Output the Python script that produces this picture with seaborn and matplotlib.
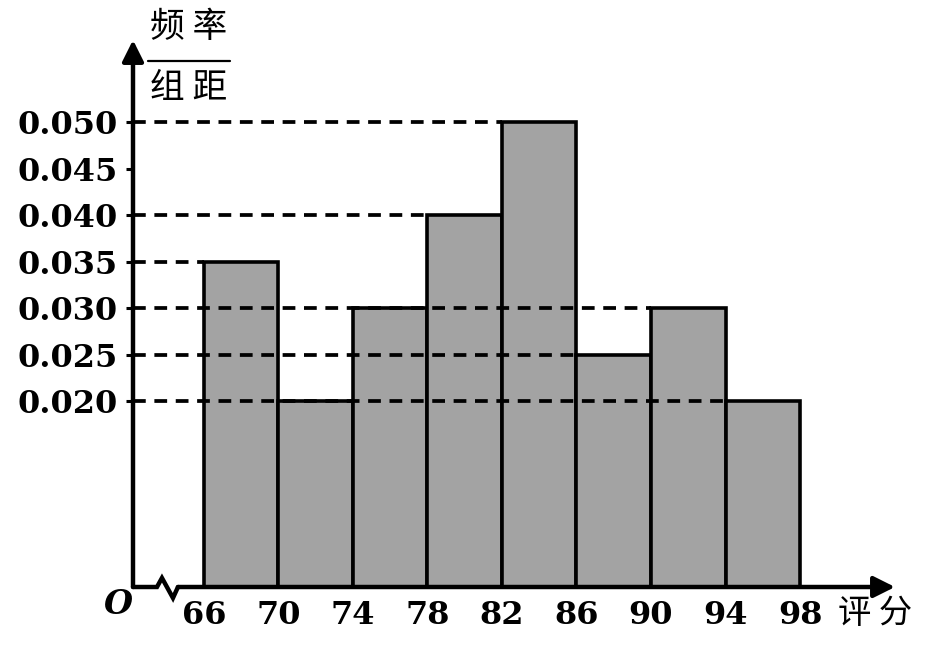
import numpy as np
import pandas as pd
import matplotlib
matplotlib.use("Agg")
import matplotlib.pyplot as plt
import seaborn as sns

# histogram data: bin edges and frequency/width
edges = [66, 70, 74, 78, 82, 86, 90, 94, 98]
heights = [0.035, 0.020, 0.030, 0.040, 0.050, 0.025, 0.030, 0.020]
tick_vals = [0.020, 0.025, 0.030, 0.035, 0.040, 0.045, 0.050]
tick_labels = ["0.020", "0.025", "0.030", "0.035", "0.040", "0.045", "0.050"]
# dashed guide lines: level -> x where the dashes stop
guide_levels = [0.050, 0.040, 0.035, 0.030, 0.025, 0.020]
guide_ends = [82, 78, 66, 90, 86, 94]

sns.set_theme(style="white")
plt.rcParams["font.family"] = ["DejaVu Serif"]
plt.rcParams["text.color"] = "black"
plt.rcParams["xtick.color"] = "black"
plt.rcParams["ytick.color"] = "black"

fig = plt.figure(figsize=(9.29, 6.45), dpi=100)
ax = fig.add_axes([133 / 929, 58 / 645, (895 - 133) / 929, (587 - 40) / 645])

mids = [(a + b) / 2 for a, b in zip(edges[:-1], edges[1:])]
df = pd.DataFrame({"score": mids, "w": heights})
sns.histplot(data=df, x="score", weights="w", bins=edges, stat="count",
             color="#a3a3a3", edgecolor="black", linewidth=2.6, alpha=1, ax=ax)

ax.set_xlim(62.19, 103.10)
ax.set_ylim(0, 0.05882)
ax.set_xlabel("")
ax.set_ylabel("")
for s in ax.spines.values():
    s.set_visible(False)

# dashed guides
for lv, xe in zip(guide_levels, guide_ends):
    ax.plot([62.19, xe], [lv, lv], color="black", lw=2.7,
            dashes=(3.4, 2.3), zorder=5)

# y ticks
ax.set_yticks(tick_vals)
ax.set_yticklabels(tick_labels, fontsize=23, fontweight="bold")
ax.tick_params(axis="y", length=5, width=2.2, color="black", pad=6, left=True)
ax.set_xticks(edges)
ax.set_xticklabels([str(e) for e in edges], fontsize=23, fontweight="bold")
ax.tick_params(axis="x", length=0, pad=9)

# y axis with arrow
ax.annotate("", xy=(0, 1), xytext=(0, 0), xycoords="axes fraction",
            arrowprops=dict(arrowstyle="-|>", lw=3.2, color="black",
                            mutation_scale=32, shrinkA=0, shrinkB=0),
            annotation_clip=False)
# x axis with break
ax.plot([62.19, 63.477, 63.745, 64.336, 64.604],
        [0, 0, 0.00097, -0.00118, 0], color="black", lw=3.2,
        clip_on=False, solid_joinstyle="miter", zorder=6)
ax.annotate("", xy=(1, 0), xytext=((64.604 - 62.19) / (103.10 - 62.19), 0),
            xycoords="axes fraction",
            arrowprops=dict(arrowstyle="-|>", lw=3.2, color="black",
                            mutation_scale=32, shrinkA=0, shrinkB=0),
            annotation_clip=False)

cjk = ["Noto Sans CJK SC", "DejaVu Sans"]
fig.text(118 / 929, 1 - 605 / 645, "O", fontsize=24, style="italic",
         fontweight="bold", ha="center", va="center")
fig.text(875 / 929, 1 - 614 / 645, "评 分", fontsize=24, family=cjk,
         fontweight="medium", ha="center", va="center")
fig.text(189 / 929, 1 - 28 / 645, "频 率", fontsize=25, family=cjk,
         fontweight="medium", ha="center", va="center")
fig.text(189 / 929, 1 - 89 / 645, "组 距", fontsize=25, family=cjk,
         fontweight="medium", ha="center", va="center")
fig.add_artist(plt.Line2D([148 / 929, 230 / 929], [1 - 61 / 645, 1 - 61 / 645],
                          color="black", lw=1.6))

fig.savefig("out.png", dpi=100)
